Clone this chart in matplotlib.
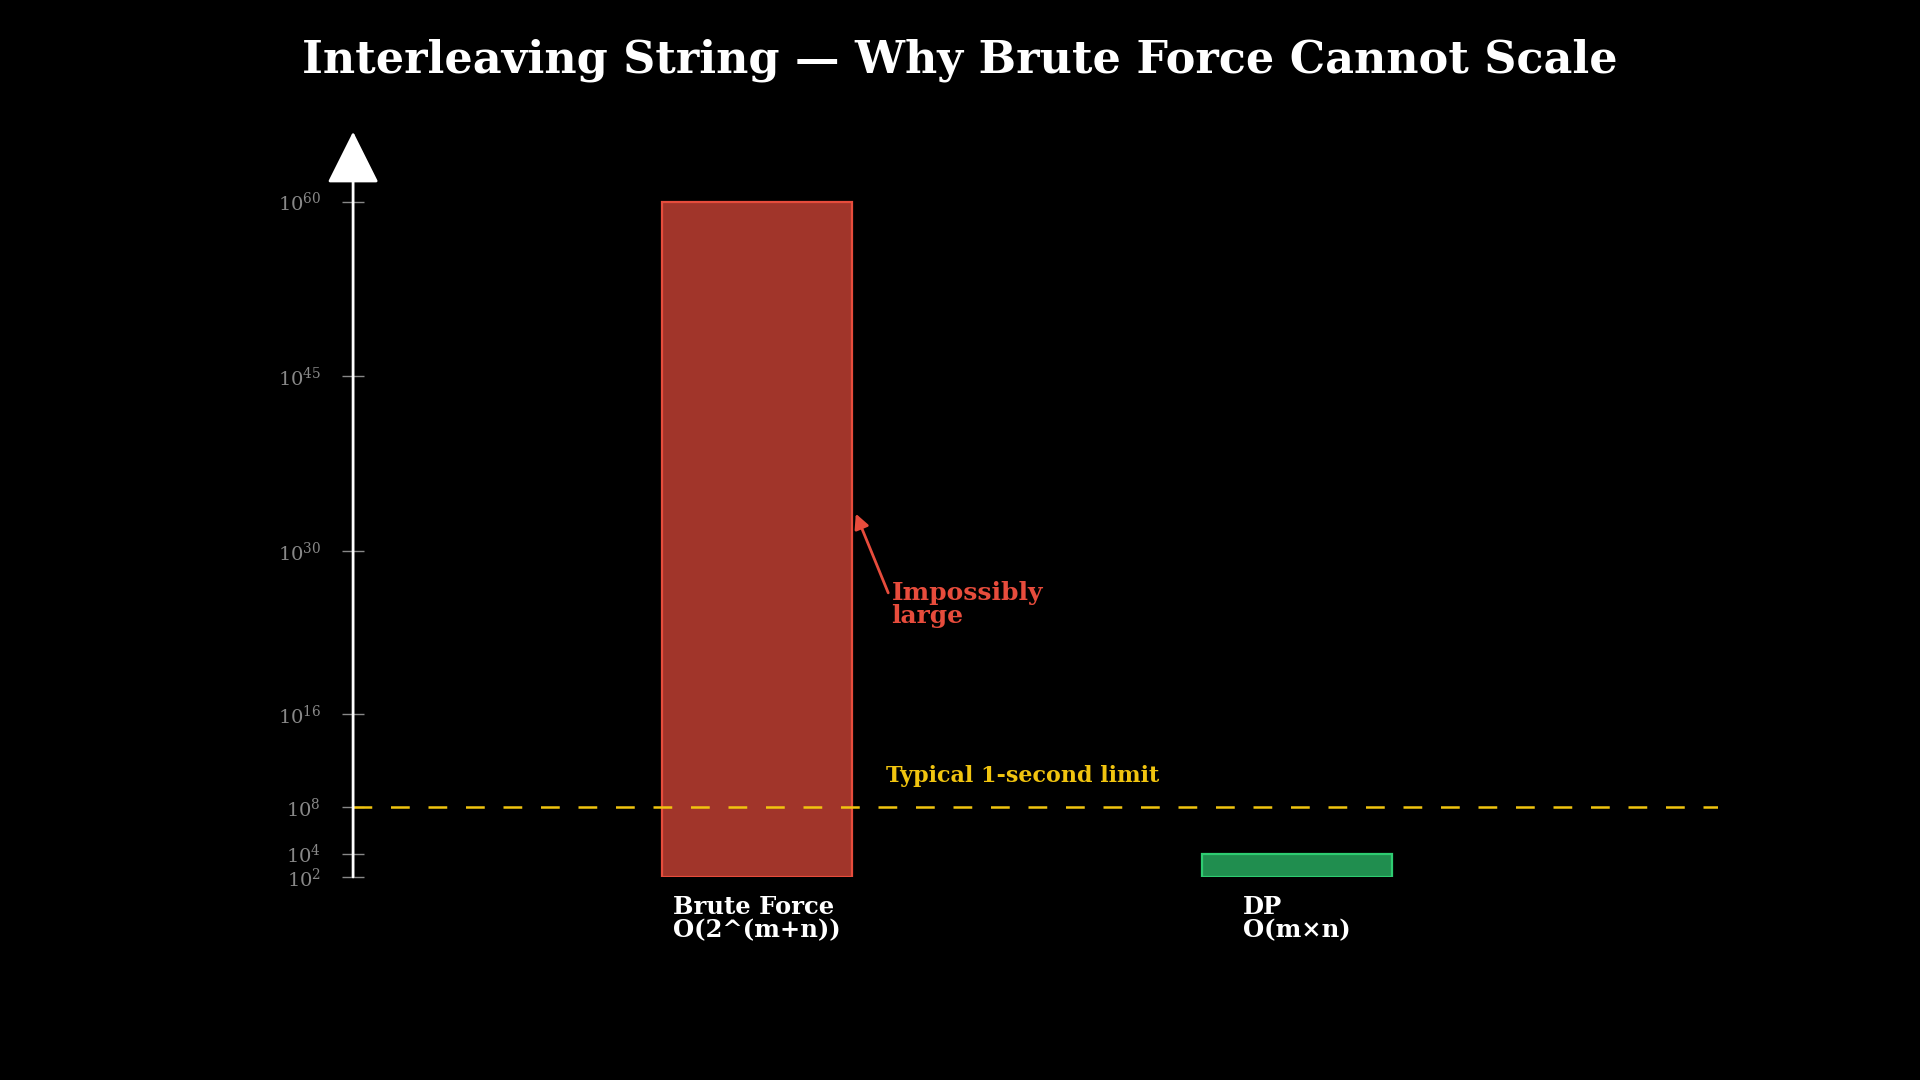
import matplotlib
matplotlib.use("Agg")
import matplotlib.pyplot as plt

# Data
approaches = ["Brute Force\nO(2^(m+n))", "DP\nO(m×n)"]
ops_top = [1e60, 1e4]  # operation counts (top of each bar)
baseline_ops = 1e2
limit_ops = 1e8
tick_exponents = [2, 4, 8, 16, 30, 45, 60]

fill_colors = ["#e74c3c", "#2ecc71"]
edge_colors = ["#e74c3c", "#2ecc71"]

plt.rcParams["font.family"] = "DejaVu Serif"
plt.rcParams["mathtext.fontset"] = "dejavuserif"

fig = plt.figure(figsize=(19.2, 10.8), dpi=100, facecolor="black")
ax = fig.add_axes([0.1839, 0.188, 0.711, 0.690])
ax.set_facecolor("black")
ax.set_yscale("log")
ax.set_ylim(baseline_ops, 1e66)
ax.set_xlim(-0.748, 1.78)

x = list(range(len(approaches)))
heights = [t - baseline_ops for t in ops_top]
bars = ax.bar(x, heights, bottom=baseline_ops, width=0.352, zorder=2)
for b, fc, ec in zip(bars, fill_colors, edge_colors):
    rgb = matplotlib.colors.to_rgb(fc)
    b.set_facecolor((*rgb, 0.7))
    b.set_edgecolor(ec)
    b.set_linewidth(1.6)

# 1-second limit line
ax.axhline(limit_ops, color="#f1c40f", lw=1.8, dashes=(7.5, 7.5), zorder=3)
ax.annotate("Typical 1-second limit", xy=(0.239, limit_ops), xytext=(0, 18),
            textcoords="offset points", ha="left", va="baseline",
            color="#f1c40f", fontsize=16, fontweight="bold")

# annotation on brute force bar
ax.annotate("", xy=(0.183, 10 ** 33.2), xytext=(0.243, 10 ** 26.4),
            arrowprops=dict(arrowstyle="-|>", color="#e74c3c", lw=2,
                            mutation_scale=22, shrinkA=0, shrinkB=0))
ax.text(0.249, 10 ** 27.4, "Impossibly\nlarge", color="#e74c3c", fontsize=18,
        fontweight="bold", ha="left", va="top", linespacing=0.95)

# axes styling
for s in ["top", "right", "bottom", "left"]:
    ax.spines[s].set_visible(False)
ax.annotate("", xy=(0, 1), xytext=(0, 0), xycoords="axes fraction",
            arrowprops=dict(arrowstyle="-|>,head_length=0.4,head_width=0.2",
                            color="white", lw=2, mutation_scale=83,
                            shrinkA=0, shrinkB=0), zorder=4)

ax.set_yticks([10.0 ** e for e in tick_exponents])
ax.set_yticklabels([r"$10^{%d}$" % e for e in tick_exponents])
ax.minorticks_off()
ax.tick_params(axis="y", direction="inout", length=16, width=1, color="#888888",
               labelcolor="#888888", labelsize=14, pad=15)

ax.set_xticks(x)
ax.set_xticklabels(approaches, fontsize=17.5, fontweight="bold", color="white",
                   linespacing=0.95, multialignment="left")
ax.tick_params(axis="x", length=0, pad=13)

fig.text(0.5, 1 - 60 / 1080, "Interleaving String — Why Brute Force Cannot Scale",
         ha="center", va="center", color="white", fontsize=32, fontweight="bold")

fig.savefig("out.png", dpi=100, facecolor="black")
